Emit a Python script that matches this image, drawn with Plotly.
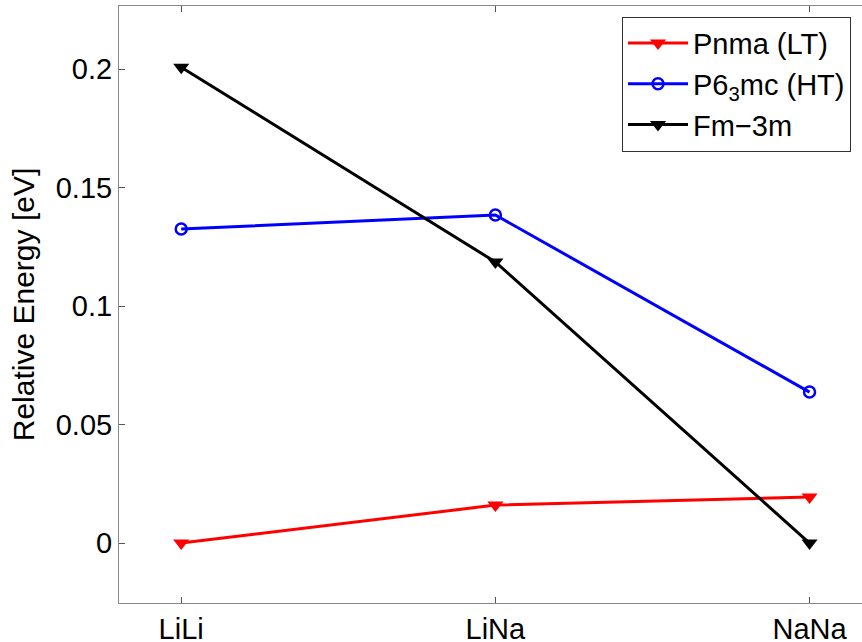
import plotly.graph_objects as go

categories = ["LiLi", "LiNa", "NaNa"]
pnma = [0.0, 0.016, 0.0194]
p63mc = [0.1325, 0.1384, 0.0637]
fm3m = [0.2008, 0.1186, 0.0]

x = list(range(len(categories)))
font = "Liberation Sans, Arial, sans-serif"

fig = go.Figure()
fig.add_trace(go.Scatter(x=x, y=pnma, mode="lines+markers", name="Pnma (LT)",
                         line=dict(color="#ff0000", width=3),
                         marker=dict(symbol="triangle-down", size=14, color="#ff0000")))
fig.add_trace(go.Scatter(x=x, y=p63mc, mode="lines+markers", name="P6<sub>3</sub>mc (HT)",
                         line=dict(color="#0000ff", width=3),
                         marker=dict(symbol="circle-open", size=11, color="#0000ff",
                                     line=dict(width=2.5, color="#0000ff"))))
fig.add_trace(go.Scatter(x=x, y=fm3m, mode="lines+markers", name="Fm\u22123m",
                         line=dict(color="#000000", width=3),
                         marker=dict(symbol="triangle-down", size=14, color="#000000")))

fig.update_layout(
    width=862, height=642,
    margin=dict(l=119, r=0, t=6, b=39),
    paper_bgcolor="white", plot_bgcolor="white",
    font=dict(family=font, size=29, color="black"),
    showlegend=True,
    legend=dict(x=0.677, y=0.982, xanchor="left", yanchor="top",
                bordercolor="#333333", borderwidth=1, bgcolor="white",
                font=dict(size=29), tracegroupgap=8, itemwidth=60),
)
fig.update_xaxes(range=[-0.198, 2.167], tickvals=x, ticktext=categories,
                 showgrid=False, zeroline=False, showline=True, linecolor="#888888",
                 linewidth=1, ticks="inside", ticklen=6, tickcolor="#555555",
                 mirror="ticks", tickfont=dict(size=29), automargin=False)
fig.update_yaxes(range=[-0.0253, 0.2266], tickvals=[0, 0.05, 0.1, 0.15, 0.2],
                 ticktext=["0", "0.05", "0.1", "0.15", "0.2"],
                 showgrid=False, zeroline=False, showline=True, linecolor="#888888",
                 linewidth=1, ticks="inside", ticklen=6, tickcolor="#555555",
                 tickfont=dict(size=29), automargin=False,
                 title=dict(text="Relative Energy [eV]", font=dict(size=30), standoff=12))

fig.write_html("out.html", config={"displayModeBar": False},
               post_script="document.body.style.margin='0';document.body.style.overflow='hidden';")
